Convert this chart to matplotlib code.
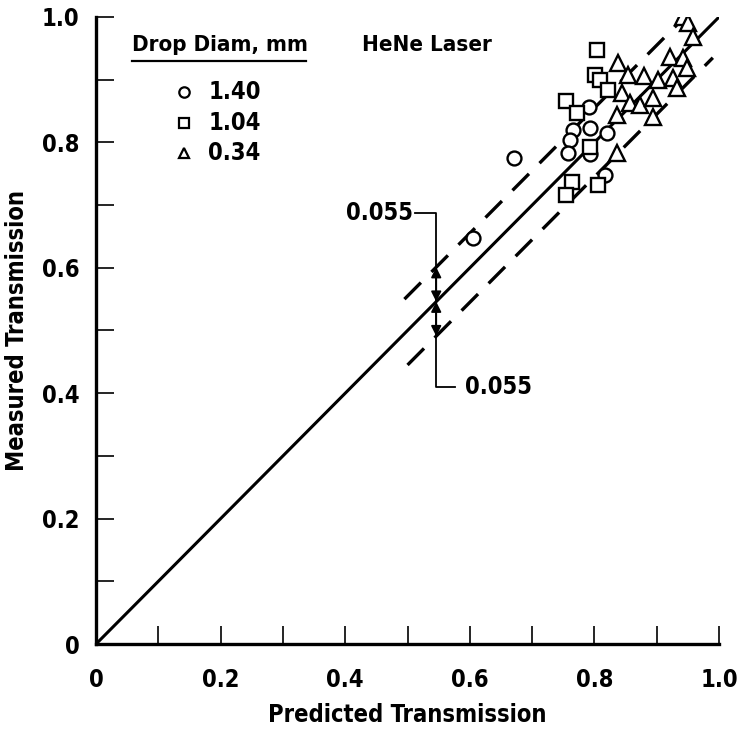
"""Measured vs predicted transmission, HeNe laser, three drop diameters."""

import matplotlib

matplotlib.use("Agg")
import matplotlib.pyplot as plt
from matplotlib.lines import Line2D

plt.rcParams["font.family"] = ["DejaVu Sans"]
plt.rcParams["font.stretch"] = "condensed"

# drop diameter 1.40 mm (circles)
pred_140 = [0.671, 0.605, 0.791, 0.766, 0.761, 0.758, 0.793, 0.793, 0.820, 0.817]
meas_140 = [0.775, 0.648, 0.856, 0.820, 0.804, 0.783, 0.823, 0.781, 0.815, 0.748]

# drop diameter 1.04 mm (squares)
pred_104 = [0.804, 0.801, 0.809, 0.822, 0.754, 0.772, 0.793, 0.764, 0.754, 0.806]
meas_104 = [0.947, 0.907, 0.900, 0.884, 0.866, 0.847, 0.793, 0.737, 0.716, 0.732]

# drop diameter 0.34 mm (triangles)
pred_034 = [0.942, 0.950, 0.958, 0.838, 0.854, 0.880, 0.902, 0.921, 0.942, 0.949,
            0.926, 0.933, 0.844, 0.857, 0.873, 0.894, 0.894, 0.836, 0.836]
meas_034 = [1.000, 0.990, 0.968, 0.927, 0.907, 0.906, 0.900, 0.936, 0.935, 0.919,
            0.903, 0.887, 0.879, 0.863, 0.860, 0.871, 0.841, 0.844, 0.783]

legend_labels = ["1.40", "1.04", "0.34"]
legend_markers = ["o", "s", "^"]

ticks = [0.0, 0.1, 0.2, 0.3, 0.4, 0.5, 0.6, 0.7, 0.8, 0.9, 1.0]
tick_labels = ["0", "", "0.2", "", "0.4", "", "0.6", "", "0.8", "", "1.0"]

fit_x = [0.0, 1.0]
band = 0.055
band_x = [0.495, 0.945]
band_low_x = [0.50, 0.99]
arrow_x = 0.546

FS = 17
FW = "semibold"

fig = plt.figure(figsize=(7.45, 7.32), dpi=100)
ax = fig.add_axes([0.1289, 0.1202, 0.8363, 0.8566])

# perfect agreement line and +/- band
ax.plot(fit_x, fit_x, color="black", lw=2.2, solid_capstyle="butt")
ax.plot(band_x, [x + band for x in band_x], color="black", lw=2.4,
        dashes=(7, 4.5))
ax.plot(band_low_x, [x - band for x in band_low_x], color="black", lw=2.4,
        dashes=(7, 4.5))

mk = dict(ls="none", mfc="white", mec="black", mew=1.7, zorder=3)
ax.plot(pred_140, meas_140, marker="o", ms=10, **mk)
ax.plot(pred_104, meas_104, marker="s", ms=10, **mk)
ax.plot(pred_034, meas_034, marker="^", ms=11.5, **mk)

# 0.055 band annotation
ax.plot([0.512, arrow_x, arrow_x, 0.576], [0.687, 0.687, 0.410, 0.410],
        color="black", lw=1.3)
for y0, y1 in [(arrow_x, arrow_x + band), (arrow_x, arrow_x - band)]:
    ax.annotate("", xy=(arrow_x, y1), xytext=(arrow_x, y0),
                arrowprops=dict(arrowstyle="<|-|>", color="black", lw=1.3,
                                mutation_scale=15, shrinkA=0, shrinkB=0))
ax.text(0.508, 0.687, "0.055", ha="right", va="center", fontsize=FS,
        fontweight=FW)
ax.text(0.592, 0.410, "0.055", ha="left", va="center", fontsize=FS,
        fontweight=FW)

# legend drawn by hand
ax.text(0.058, 0.955, "Drop Diam, mm", ha="left", va="center", fontsize=FS - 1,
        fontweight=FW)
ax.add_line(Line2D([0.058, 0.337], [0.930, 0.930], color="black", lw=1.6))
for i, (lab, m) in enumerate(zip(legend_labels, legend_markers)):
    y = 0.880 - i * 0.0485
    ax.plot([0.141], [y], marker=m, ls="none", mfc="white", mec="black",
            mew=1.6, ms=7.5)
    ax.text(0.18, y, lab, ha="left", va="center", fontsize=FS,
            fontweight=FW)
ax.text(0.427, 0.955, "HeNe Laser", ha="left", va="center", fontsize=FS - 1,
        fontweight=FW)

ax.set_xlim(0, 1.0)
ax.set_ylim(0, 1.0)
ax.set_xticks(ticks)
ax.set_yticks(ticks)
ax.set_xticklabels(tick_labels)
ax.set_yticklabels(tick_labels)
ax.tick_params(direction="in", length=13, width=1.2, labelsize=FS)
ax.tick_params(axis="x", pad=17)
ax.tick_params(axis="y", pad=12)
for lab in ax.get_xticklabels() + ax.get_yticklabels():
    lab.set_fontweight(FW)
for side in ("top", "right"):
    ax.spines[side].set_visible(False)
for side in ("left", "bottom"):
    ax.spines[side].set_linewidth(2.4)

ax.set_xlabel("Predicted Transmission", fontsize=FS, fontweight=FW,
              labelpad=8)
ax.set_ylabel("Measured Transmission", fontsize=FS, fontweight=FW,
              labelpad=9)

fig.savefig("out.png", dpi=100)
